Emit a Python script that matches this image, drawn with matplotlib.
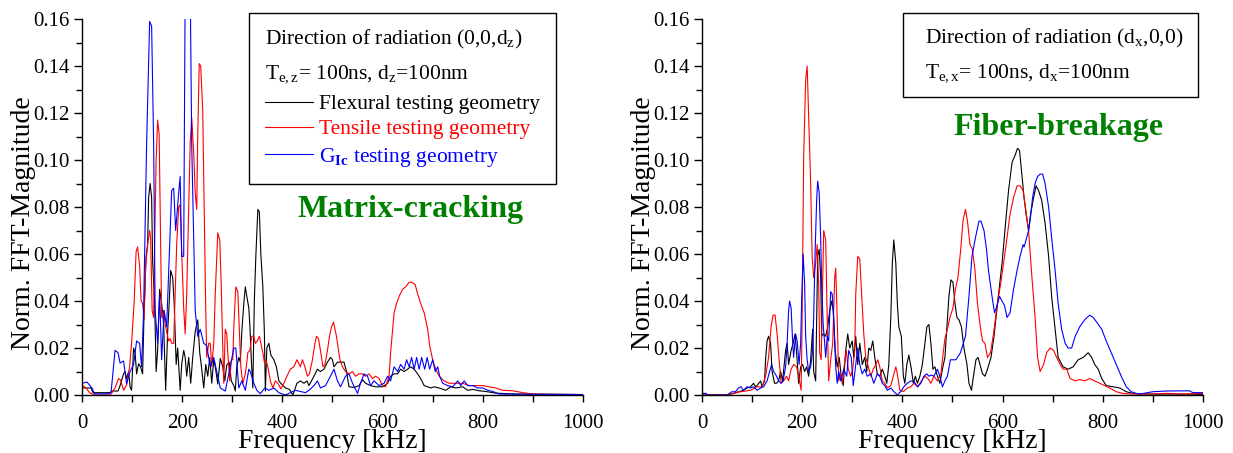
import numpy as np
import matplotlib
matplotlib.use('Agg')
import matplotlib.pyplot as plt
from matplotlib.patches import Rectangle
from matplotlib.ticker import MultipleLocator

plt.rcParams['font.family'] = ['Liberation Serif', 'DejaVu Serif']
plt.rcParams['mathtext.fontset'] = 'custom'
plt.rcParams['mathtext.rm'] = 'Liberation Serif'
plt.rcParams['mathtext.it'] = 'Liberation Serif:italic'
plt.rcParams['mathtext.bf'] = 'Liberation Serif:bold'

# spectra: (frequency in kHz, normalised FFT magnitude)
flex_z = [(0, 0.003), (10, 0.003), (18, 0.003), (22, 0.001), (40, 0.001), (56, 0.001), (60, 0.0017), (72, 0.0017),
          (76, 0.004), (83, 0.009), (86, 0.010), (89, 0.007), (93, 0.010), (96, 0.0034), (99, 0.002), (103, 0.020),
          (106, 0.018), (109, 0.009), (113, 0.0133), (117, 0.012), (121, 0.009), (124, 0.036), (128, 0.059),
          (131, 0.064), (133, 0.084), (136, 0.090), (139, 0.084), (141, 0.057), (145, 0.039), (148, 0.010),
          (151, 0.019), (155, 0.045), (159, 0.039), (163, 0.030), (167, 0.002), (171, 0.027), (174, 0.039),
          (177, 0.053), (181, 0.050), (184, 0.039), (188, 0.013), (191, 0.020), (196, 0.002), (199, 0.013),
          (203, 0.019), (206, 0.016), (209, 0.008), (213, 0.016), (217, 0.005), (221, 0.016), (226, 0.027),
          (231, 0.032), (235, 0.018), (239, 0.011), (243, 0.003), (247, 0.013), (251, 0.008), (255, 0.016),
          (259, 0.005), (263, 0.015), (266, 0.012), (271, 0.0047), (276, 0.0156), (281, 0.012), (285, 0.006),
          (289, 0.0128), (294, 0.014), (298, 0.006), (303, 0.004), (306, 0.0017), (309, 0.012), (313, 0.016),
          (316, 0.014), (319, 0.027), (323, 0.039), (326, 0.046), (329, 0.042), (333, 0.037), (335, 0.030),
          (338, 0.015), (341, 0.003), (344, 0.040), (347, 0.059), (351, 0.079), (354, 0.078), (357, 0.060),
          (361, 0.046), (364, 0.027), (366, 0.0017), (369, 0.020), (373, 0.022), (377, 0.017), (383, 0.015),
          (388, 0.012), (393, 0.006), (398, 0.0047), (406, 0.003), (414, 0.0024), (421, 0.0), (429, 0.005),
          (436, 0.006), (443, 0.005), (449, 0.006), (453, 0.004), (463, 0.008), (470, 0.011), (476, 0.010),
          (483, 0.011), (490, 0.014), (496, 0.016), (500, 0.015), (503, 0.012), (510, 0.014), (516, 0.014),
          (523, 0.014), (528, 0.010), (533, 0.0035), (543, 0.0032), (553, 0.004), (560, 0.0065), (566, 0.005),
          (576, 0.004), (586, 0.0035), (600, 0.0035), (610, 0.005), (616, 0.008), (623, 0.009), (630, 0.009),
          (636, 0.011), (643, 0.010), (650, 0.011), (656, 0.012), (663, 0.011), (670, 0.009), (676, 0.007),
          (683, 0.004), (690, 0.0035), (696, 0.003), (703, 0.0035), (713, 0.003), (726, 0.002), (736, 0.0035),
          (746, 0.003), (760, 0.0035), (770, 0.002), (780, 0.0024), (793, 0.0018), (806, 0.0015), (826, 0.0008),
          (866, 0.0004), (1000, 0.0002)]

tens_z = [(0, 0.0043), (8, 0.003), (15, 0.001), (25, 0.0), (55, 0.0), (60, 0.001), (66, 0.003), (73, 0.007),
          (77, 0.0064), (83, 0.002), (89, 0.0043), (95, 0.012), (99, 0.022), (104, 0.039), (108, 0.061),
          (111, 0.063), (115, 0.055), (118, 0.040), (121, 0.039), (124, 0.032), (127, 0.055), (131, 0.064),
          (135, 0.070), (137, 0.067), (140, 0.036), (143, 0.033), (145, 0.064), (148, 0.100), (151, 0.117),
          (154, 0.111), (157, 0.064), (159, 0.033), (163, 0.036), (166, 0.030), (169, 0.027), (173, 0.023),
          (176, 0.024), (179, 0.022), (183, 0.022), (186, 0.043), (189, 0.064), (193, 0.080), (196, 0.081),
          (199, 0.061), (203, 0.037), (206, 0.026), (209, 0.043), (213, 0.079), (216, 0.107), (219, 0.118),
          (223, 0.103), (226, 0.086), (229, 0.079), (231, 0.110), (234, 0.141), (237, 0.140), (241, 0.121),
          (244, 0.079), (247, 0.036), (249, 0.016), (253, 0.022), (256, 0.022), (259, 0.012), (263, 0.022),
          (266, 0.043), (271, 0.069), (275, 0.066), (278, 0.046), (281, 0.020), (283, 0.005), (286, 0.028),
          (289, 0.026), (291, 0.018), (295, 0.006), (298, 0.015), (301, 0.015), (303, 0.029), (307, 0.046),
          (311, 0.044), (314, 0.028), (317, 0.012), (321, 0.005), (325, 0.008), (328, 0.012), (331, 0.018),
          (335, 0.019), (339, 0.025), (343, 0.025), (346, 0.022), (350, 0.023), (354, 0.025), (357, 0.022),
          (361, 0.018), (364, 0.014), (367, 0.015), (371, 0.012), (376, 0.006), (381, 0.003), (386, 0.006),
          (391, 0.005), (397, 0.0026), (403, 0.005), (409, 0.008), (416, 0.011), (423, 0.012), (429, 0.015),
          (436, 0.012), (440, 0.015), (445, 0.012), (450, 0.008), (454, 0.009), (460, 0.015), (465, 0.022),
          (468, 0.025), (472, 0.024), (476, 0.019), (481, 0.012), (485, 0.013), (490, 0.019), (494, 0.025),
          (498, 0.029), (502, 0.031), (505, 0.028), (508, 0.025), (512, 0.019), (515, 0.015), (520, 0.012),
          (526, 0.010), (533, 0.009), (540, 0.010), (546, 0.008), (553, 0.009), (560, 0.009), (566, 0.008),
          (573, 0.009), (580, 0.007), (586, 0.008), (593, 0.007), (600, 0.004), (606, 0.0035), (613, 0.008),
          (616, 0.018), (620, 0.028), (623, 0.035), (628, 0.039), (633, 0.042), (640, 0.045), (646, 0.046),
          (653, 0.048), (658, 0.048), (665, 0.047), (670, 0.043), (676, 0.039), (683, 0.035), (690, 0.028),
          (694, 0.021), (700, 0.015), (706, 0.011), (713, 0.008), (723, 0.006), (733, 0.005), (746, 0.005),
          (760, 0.005), (773, 0.004), (786, 0.004), (800, 0.004), (813, 0.0035), (826, 0.003), (840, 0.002),
          (860, 0.0018), (880, 0.001), (900, 0.0004), (1000, 0.0002)]

gic_z = [(0, 0.005), (10, 0.0055), (20, 0.003), (25, 0.0005), (50, 0.0005), (58, 0.001), (62, 0.010), (66, 0.019),
         (72, 0.018), (76, 0.0136), (83, 0.0145), (89, 0.0048), (96, 0.010), (103, 0.013), (109, 0.023),
         (115, 0.022), (119, 0.012), (123, 0.036), (129, 0.107), (135, 0.159), (139, 0.157), (143, 0.107),
         (146, 0.036), (151, 0.022), (155, 0.043), (159, 0.015), (164, 0.036), (169, 0.029), (175, 0.064),
         (179, 0.087), (183, 0.088), (187, 0.070), (193, 0.086), (196, 0.093), (199, 0.059), (203, 0.059),
         (206, 0.175), (216, 0.175), (219, 0.107), (226, 0.036), (231, 0.025), (236, 0.028), (243, 0.022),
         (249, 0.021), (256, 0.012), (263, 0.016), (269, 0.010), (276, 0.003), (286, 0.0017), (296, 0.012),
         (303, 0.020), (307, 0.020), (313, 0.003), (319, 0.006), (326, 0.002), (333, 0.011), (336, 0.010),
         (343, 0.005), (349, 0.002), (356, 0.0006), (365, 0.003), (373, 0.002), (383, 0.003), (393, 0.001),
         (406, 0.0), (426, 0.002), (446, 0.001), (453, 0.002), (463, 0.004), (470, 0.006), (476, 0.003),
         (486, 0.004), (496, 0.008), (503, 0.011), (510, 0.006), (516, 0.0035), (526, 0.008), (533, 0.009),
         (540, 0.005), (550, 0.0007), (556, 0.005), (563, 0.009), (570, 0.008), (576, 0.004), (583, 0.006),
         (593, 0.004), (603, 0.005), (610, 0.008), (616, 0.006), (623, 0.012), (630, 0.010), (636, 0.013),
         (643, 0.011), (648, 0.015), (653, 0.012), (658, 0.016), (663, 0.011), (668, 0.016), (673, 0.011),
         (678, 0.016), (684, 0.011), (689, 0.016), (694, 0.011), (700, 0.015), (705, 0.010), (710, 0.012),
         (714, 0.008), (720, 0.005), (730, 0.004), (740, 0.0035), (750, 0.006), (756, 0.004), (763, 0.006),
         (770, 0.004), (780, 0.004), (790, 0.003), (800, 0.003), (810, 0.002), (820, 0.0015), (833, 0.0004),
         (1000, 0.0002)]

flex_x = [(0, 0.0), (50, 0.0), (63, 0.0007), (83, 0.002), (90, 0.003), (97, 0.0035), (103, 0.005), (107, 0.0035),
          (111, 0.0043), (117, 0.006), (120, 0.0035), (125, 0.006), (127, 0.015), (130, 0.023), (133, 0.025),
          (137, 0.022), (140, 0.010), (145, 0.005), (149, 0.005), (153, 0.006), (157, 0.010), (161, 0.006),
          (167, 0.019), (170, 0.022), (173, 0.013), (178, 0.019), (182, 0.022), (186, 0.026), (190, 0.015),
          (193, 0.005), (197, 0.012), (201, 0.013), (205, 0.010), (209, 0.012), (213, 0.008), (217, 0.015),
          (221, 0.028), (223, 0.010), (227, 0.006), (229, 0.033), (231, 0.059), (234, 0.062), (237, 0.050),
          (239, 0.025), (243, 0.026), (247, 0.025), (251, 0.029), (255, 0.036), (259, 0.040), (262, 0.036),
          (266, 0.019), (270, 0.012), (274, 0.016), (278, 0.008), (282, 0.004), (287, 0.019), (291, 0.026),
          (295, 0.020), (300, 0.023), (303, 0.016), (307, 0.025), (311, 0.013), (315, 0.022), (320, 0.013),
          (325, 0.016), (329, 0.010), (333, 0.020), (337, 0.019), (341, 0.023), (345, 0.016), (350, 0.009),
          (355, 0.008), (360, 0.011), (365, 0.008), (369, 0.005), (373, 0.013), (377, 0.033), (380, 0.056),
          (383, 0.066), (387, 0.056), (390, 0.039), (393, 0.029), (398, 0.025), (402, 0.008), (405, 0.005),
          (409, 0.013), (413, 0.017), (418, 0.011), (422, 0.005), (426, 0.008), (430, 0.005), (435, 0.008),
          (440, 0.013), (445, 0.022), (449, 0.029), (453, 0.030), (457, 0.022), (461, 0.011), (465, 0.012),
          (470, 0.008), (475, 0.005), (480, 0.011), (485, 0.016), (489, 0.029), (493, 0.042), (497, 0.049),
          (501, 0.048), (505, 0.039), (509, 0.033), (513, 0.032), (518, 0.029), (523, 0.020), (529, 0.013),
          (533, 0.005), (538, 0.002), (542, 0.008), (547, 0.015), (551, 0.016), (555, 0.013), (560, 0.009),
          (565, 0.008), (570, 0.011), (577, 0.016), (583, 0.025), (590, 0.039), (599, 0.056), (606, 0.073),
          (612, 0.087), (619, 0.099), (625, 0.102), (630, 0.105), (634, 0.104), (639, 0.093), (643, 0.084),
          (647, 0.077), (652, 0.070), (656, 0.077), (662, 0.084), (667, 0.089), (672, 0.087), (678, 0.083),
          (685, 0.073), (692, 0.059), (698, 0.042), (705, 0.028), (711, 0.016), (721, 0.012), (731, 0.011),
          (741, 0.012), (751, 0.015), (761, 0.016), (771, 0.018), (778, 0.016), (784, 0.013), (791, 0.011),
          (798, 0.007), (807, 0.004), (821, 0.0035), (834, 0.003), (847, 0.0014), (860, 0.0007), (893, 0.0004),
          (960, 0.0004), (1000, 0.0003)]

tens_x = [(0, 0.0), (50, 0.0), (63, 0.0007), (77, 0.0014), (97, 0.002), (110, 0.0035), (120, 0.0035), (127, 0.008),
          (133, 0.016), (138, 0.029), (142, 0.034), (146, 0.034), (150, 0.026), (154, 0.015), (158, 0.005),
          (163, 0.006), (169, 0.008), (173, 0.006), (178, 0.011), (183, 0.013), (189, 0.012), (193, 0.008),
          (198, 0.002), (200, 0.033), (203, 0.101), (207, 0.134), (210, 0.140), (213, 0.118), (217, 0.090),
          (220, 0.059), (223, 0.050), (227, 0.056), (230, 0.064), (233, 0.047), (235, 0.018), (238, 0.015),
          (241, 0.047), (243, 0.070), (247, 0.066), (250, 0.033), (253, 0.006), (257, 0.015), (261, 0.022),
          (265, 0.050), (267, 0.054), (270, 0.033), (273, 0.006), (277, 0.009), (280, 0.005), (283, 0.011),
          (288, 0.019), (292, 0.011), (297, 0.008), (301, 0.011), (305, 0.019), (307, 0.043), (311, 0.059),
          (315, 0.058), (319, 0.042), (323, 0.026), (327, 0.016), (331, 0.013), (337, 0.008), (342, 0.011),
          (347, 0.013), (351, 0.015), (355, 0.012), (360, 0.006), (365, 0.005), (370, 0.003), (377, 0.004),
          (382, 0.008), (387, 0.012), (390, 0.009), (395, 0.002), (402, 0.0015), (410, 0.003), (417, 0.0035),
          (423, 0.005), (431, 0.0035), (438, 0.006), (445, 0.008), (451, 0.007), (457, 0.005), (463, 0.008),
          (470, 0.006), (477, 0.009), (480, 0.015), (485, 0.024), (490, 0.028), (495, 0.033), (501, 0.037),
          (506, 0.045), (511, 0.050), (517, 0.063), (521, 0.074), (526, 0.079), (530, 0.074), (535, 0.064),
          (540, 0.062), (545, 0.053), (550, 0.039), (555, 0.030), (560, 0.023), (565, 0.022), (570, 0.016),
          (576, 0.018), (582, 0.026), (589, 0.038), (596, 0.047), (602, 0.056), (609, 0.067), (615, 0.077),
          (622, 0.084), (629, 0.089), (635, 0.089), (641, 0.087), (645, 0.081), (652, 0.070), (658, 0.052),
          (665, 0.033), (670, 0.016), (675, 0.010), (682, 0.013), (688, 0.018), (695, 0.020), (702, 0.019),
          (708, 0.016), (715, 0.013), (721, 0.011), (728, 0.011), (735, 0.007), (745, 0.006), (754, 0.0066),
          (764, 0.006), (774, 0.007), (784, 0.006), (794, 0.005), (804, 0.004), (814, 0.003), (827, 0.0014),
          (840, 0.0007), (860, 0.0004), (893, 0.0004), (927, 0.0007), (960, 0.0004), (1000, 0.0007)]

gic_x = [(0, 0.0007), (8, 0.0007), (12, 0.0), (50, 0.0), (60, 0.0014), (67, 0.0014), (73, 0.003), (78, 0.0035),
         (83, 0.002), (90, 0.0035), (97, 0.003), (103, 0.0035), (110, 0.002), (117, 0.003), (123, 0.0035),
         (130, 0.006), (135, 0.010), (139, 0.013), (143, 0.010), (149, 0.008), (153, 0.006), (158, 0.005),
         (162, 0.006), (167, 0.012), (170, 0.022), (173, 0.036), (175, 0.040), (178, 0.037), (181, 0.023),
         (183, 0.016), (187, 0.026), (190, 0.023), (194, 0.013), (197, 0.022), (199, 0.040), (202, 0.060),
         (205, 0.047), (207, 0.025), (210, 0.015), (213, 0.010), (217, 0.012), (221, 0.019), (223, 0.033),
         (226, 0.062), (229, 0.083), (231, 0.091), (234, 0.086), (237, 0.067), (239, 0.047), (242, 0.030),
         (245, 0.022), (247, 0.016), (250, 0.025), (253, 0.023), (257, 0.044), (260, 0.043), (263, 0.033),
         (267, 0.012), (270, 0.005), (273, 0.010), (277, 0.006), (283, 0.011), (289, 0.008), (293, 0.019),
         (298, 0.016), (302, 0.004), (307, 0.013), (311, 0.020), (315, 0.013), (320, 0.009), (325, 0.011),
         (330, 0.008), (337, 0.009), (343, 0.005), (350, 0.009), (355, 0.008), (360, 0.005), (365, 0.004),
         (370, 0.002), (377, 0.003), (383, 0.0015), (390, 0.0), (397, 0.0015), (403, 0.0035), (410, 0.005),
         (417, 0.006), (423, 0.0058), (430, 0.0035), (437, 0.005), (443, 0.008), (449, 0.009), (453, 0.008),
         (458, 0.0085), (463, 0.008), (470, 0.011), (475, 0.008), (480, 0.0035), (485, 0.006), (490, 0.008),
         (496, 0.015), (507, 0.015), (516, 0.018), (526, 0.025), (533, 0.042), (539, 0.059), (546, 0.067),
         (553, 0.074), (557, 0.074), (563, 0.070), (568, 0.062), (572, 0.053), (579, 0.042), (584, 0.035),
         (589, 0.038), (594, 0.042), (599, 0.040), (604, 0.038), (609, 0.033), (615, 0.035), (622, 0.045),
         (629, 0.053), (635, 0.059), (641, 0.064), (643, 0.063), (647, 0.066), (652, 0.070), (656, 0.076),
         (660, 0.084), (665, 0.090), (670, 0.093), (675, 0.094), (680, 0.094), (685, 0.090), (692, 0.080),
         (698, 0.067), (705, 0.053), (711, 0.039), (718, 0.028), (725, 0.022), (731, 0.020), (738, 0.020),
         (745, 0.025), (754, 0.029), (764, 0.032), (774, 0.034), (781, 0.033), (788, 0.031), (798, 0.028),
         (807, 0.023), (817, 0.018), (827, 0.013), (837, 0.008), (847, 0.0035), (857, 0.0014), (867, 0.0007),
         (874, 0.0004), (900, 0.0014), (927, 0.0017), (973, 0.0018), (980, 0.001), (1000, 0.001)]

series_labels = ['Flexural testing geometry', 'Tensile testing geometry',
                 r'$\mathregular{G_{\mathbf{Ic}}}$ testing geometry']
series_colors = ['black', 'red', 'blue']

header_z = ['Direction of radiation (0,0,$\\mathregular{d_z}$)',
            '$\\mathregular{T_{e,z}}$= 100ns, $\\mathregular{d_z}$=100nm']
header_x = ['Direction of radiation ($\\mathregular{d_x}$,0,0)',
            '$\\mathregular{T_{e,x}}$= 100ns, $\\mathregular{d_x}$=100nm']

BOX_FS = 15.5


def style_axes(ax):
    ax.set_xlim(0, 1000)
    ax.set_ylim(0, 0.16)
    ax.xaxis.set_major_locator(MultipleLocator(200))
    ax.xaxis.set_minor_locator(MultipleLocator(100))
    ax.yaxis.set_major_locator(MultipleLocator(0.02))
    ax.yaxis.set_minor_locator(MultipleLocator(0.01))
    ax.yaxis.set_major_formatter('{x:.2f}')
    for side in ['top', 'right']:
        ax.spines[side].set_visible(False)
    for side in ['left', 'bottom']:
        ax.spines[side].set_linewidth(1.0)
    ax.tick_params(which='both', direction='out', width=1.0, labelsize=15)
    ax.tick_params(axis='y', which='major', length=6, pad=3)
    ax.tick_params(axis='y', which='minor', length=4)
    ax.tick_params(axis='x', which='both', length=5, pad=9)
    ax.set_xlabel('Frequency [kHz]', fontsize=20, labelpad=-3)
    ax.set_ylabel('Norm. FFT-Magnitude', fontsize=20)
    ax.yaxis.set_label_coords(-0.092, 0.457)


def info_box(ax, x0, y0, x1, y1, lines, tx, ty):
    ax.add_patch(Rectangle((x0, y0), x1 - x0, y1 - y0, transform=ax.transAxes,
                           fill=False, ec='black', lw=1.0, clip_on=False, zorder=5))
    for txt, yy in zip(lines, ty):
        ax.text(tx, yy, txt, transform=ax.transAxes, fontsize=BOX_FS, va='baseline', ha='left')


fig = plt.figure(figsize=(12.33, 4.53), dpi=100)
ax1 = fig.add_axes([0.0665, 0.128, 0.4063, 0.830])
ax2 = fig.add_axes([0.5693, 0.128, 0.4063, 0.830])

for data, col in zip([flex_z, tens_z, gic_z], series_colors):
    arr = np.array(data)
    ax1.plot(arr[:, 0], arr[:, 1], color=col, lw=0.8)
for data, col in zip([flex_x, tens_x, gic_x], series_colors):
    arr = np.array(data)
    ax2.plot(arr[:, 0], arr[:, 1], color=col, lw=0.8)

style_axes(ax1)
style_axes(ax2)

# left info box with the line key
info_box(ax1, 0.333, 0.561, 0.946, 1.016, header_z, 0.365, [0.931, 0.843])
for lab, col, yl, yt in zip(series_labels, series_colors, [0.779, 0.713, 0.641], [0.761, 0.694, 0.620]):
    ax1.plot([0.365, 0.461], [yl, yl], transform=ax1.transAxes, color=col, lw=0.8, clip_on=False)
    ax1.text(0.473, yt, lab, transform=ax1.transAxes, fontsize=BOX_FS, color=col, va='baseline', ha='left')

info_box(ax2, 0.401, 0.793, 0.990, 1.016, header_x, 0.445, [0.936, 0.846])

ax1.text(0.655, 0.473, 'Matrix-cracking', transform=ax1.transAxes, fontsize=23,
         fontweight='bold', color='#008000', ha='center', va='baseline')
ax2.text(0.711, 0.691, 'Fiber-breakage', transform=ax2.transAxes, fontsize=23,
         fontweight='bold', color='#008000', ha='center', va='baseline')

fig.savefig('out.png', dpi=100)
